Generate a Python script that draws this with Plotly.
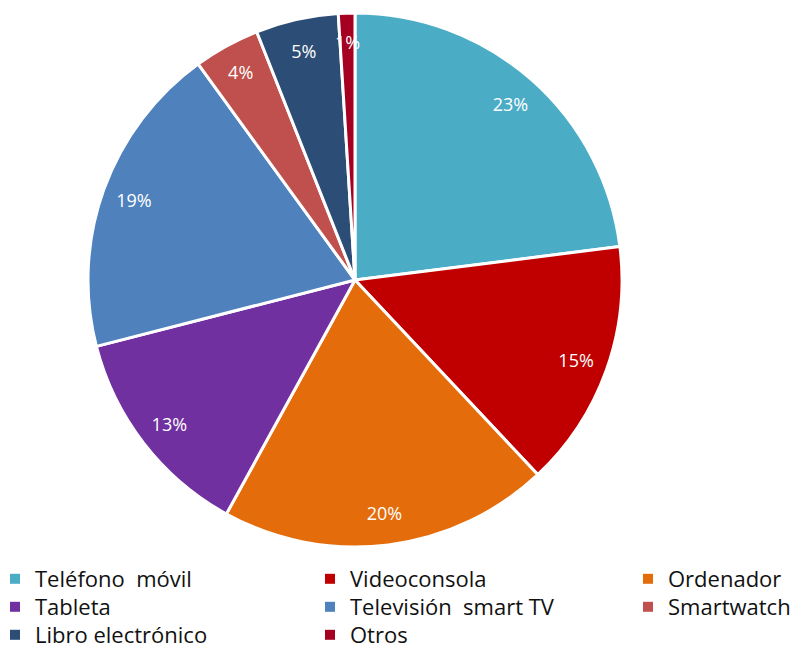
import math
import plotly.graph_objects as go

labels = ["Teléfono  móvil", "Videoconsola", "Ordenador", "Tableta",
          "Televisión  smart TV", "Smartwatch", "Libro electrónico", "Otros"]
values = [23, 15, 20, 13, 19, 4, 5, 1]
colors = ["#4BACC6", "#C00000", "#E46C0A", "#7030A0",
          "#4F81BD", "#C0504D", "#2C4D75", "#A50021"]

# page body adds an 8px margin, so positions are shifted back by 8px
W, H, OFF = 807, 648, 8
dom = dict(x=[(88 - OFF) / W, (622 - OFF) / W], y=[(H - 547 + OFF) / H, (H - 13 + OFF) / H])

total = sum(values)
small = [v / total < 0.02 for v in values]

fig = go.Figure()
# filled slices
fig.add_trace(go.Pie(
    labels=labels, values=values, sort=False, direction="clockwise", rotation=0,
    marker=dict(colors=colors, line=dict(color="white", width=3)),
    textinfo="none", domain=dom, hoverinfo="label+percent", showlegend=False,
))
# transparent ring, only used to place the percentages near the rim
fig.add_trace(go.Pie(
    labels=labels, values=values, sort=False, direction="clockwise", rotation=0,
    hole=0.76, showlegend=False, hoverinfo="skip",
    marker=dict(colors=["rgba(0,0,0,0)"] * len(values), line=dict(width=0)),
    texttemplate=["" if s else "%{percent:.0%}" for s in small],
    textposition="inside", insidetextorientation="horizontal",
    textfont=dict(color="white", size=18, family="Open Sans"),
    domain=dom,
))

# tiny slices: label placed on the slice's mid angle, like the others
cx, cy = sum(dom["x"]) / 2, sum(dom["y"]) / 2
rx, ry = (dom["x"][1] - dom["x"][0]) / 2, (dom["y"][1] - dom["y"][0]) / 2
cum = 0
for v, s in zip(values, small):
    if s:
        a = 2 * math.pi * (cum + v / 2) / total
        fig.add_annotation(
            x=cx + 0.89 * rx * math.sin(a), y=cy + 0.89 * ry * math.cos(a),
            xref="paper", yref="paper", xanchor="center", yanchor="middle",
            text=f"{round(100 * v / total)}%", showarrow=False,
            font=dict(color="white", size=18, family="Open Sans"),
        )
    cum += v

# legend: one small legend per entry, laid out in three columns
col_x = [-5, 310, 628]
row_y = [558, 586, 614]
for i, (lab, col) in enumerate(zip(labels, colors)):
    lid = "legend" if i == 0 else f"legend{i + 1}"
    fig.add_trace(go.Scatter(
        x=[None], y=[None], mode="markers", name=lab,
        marker=dict(symbol="square", size=10, color=col),
        legend=lid, hoverinfo="skip",
    ))
    fig.update_layout({lid: dict(
        orientation="v", yanchor="top", xanchor="left",
        x=(col_x[i % 3] - OFF) / W, y=(H - row_y[i // 3] + OFF) / H,
        font=dict(size=22, color="#111111"), itemwidth=30,
        bgcolor="rgba(0,0,0,0)",
    )})

fig.update_layout(
    width=W, height=H,
    margin=dict(l=0, r=0, t=0, b=0, autoexpand=False),
    paper_bgcolor="white", plot_bgcolor="white",
    font=dict(family="Open Sans", color="#111111"),
    uniformtext=dict(minsize=18, mode="show"),
    xaxis=dict(visible=False), yaxis=dict(visible=False),
)

fig.write_html("out.html")
